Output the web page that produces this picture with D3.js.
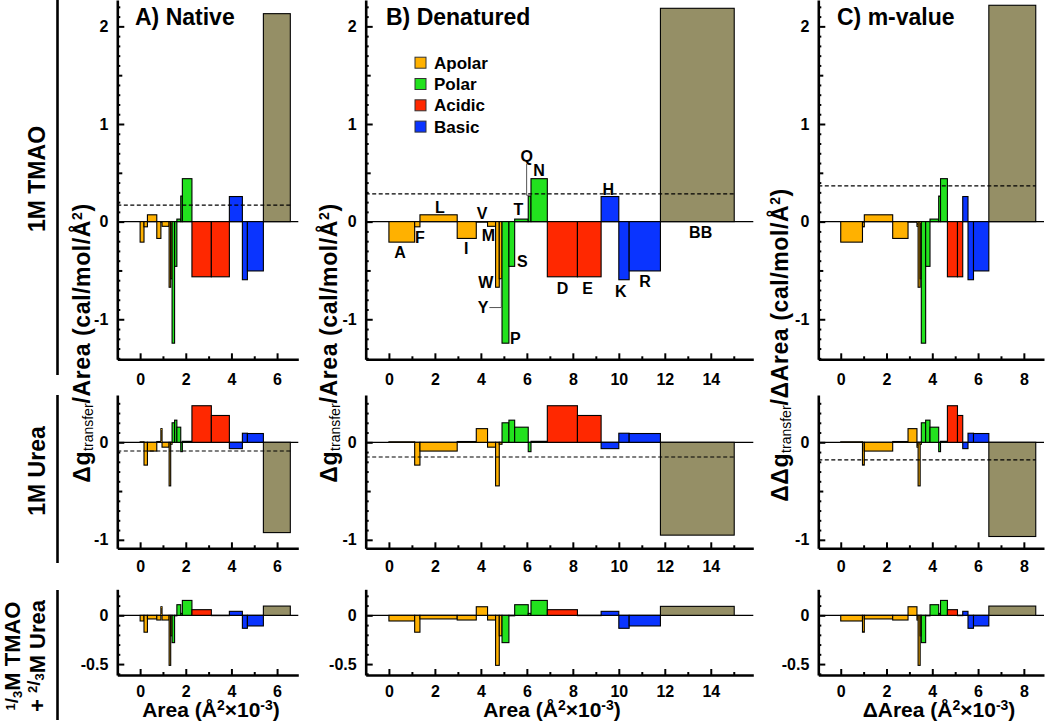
<!DOCTYPE html>
<html><head><meta charset="utf-8">
<script src="https://cdn.jsdelivr.net/npm/d3@7"></script>
<style>
body{margin:0;background:#fff}
svg{display:block}
text{font-family:"Liberation Sans",Arial,Helvetica,sans-serif;font-weight:bold;fill:#000}
</style></head>
<body><svg id="chart" width="1050" height="724"></svg>
<script>
// ---------------- DATA ----------------
const residues = ["A","F","L","I","V","M","W","Y","P","S","T","Q","N","D","E","H","K","R","BB"];
const residueGroup = ["apolar","apolar","apolar","apolar","apolar","apolar","apolar","apolar",
  "polar","polar","polar","polar","polar","acidic","acidic","basic","basic","basic","backbone"];

// surface areas (Å² x 10^-3) — bar widths
const areaNative    = [0.17,0.15,0.41,0.18,0.05,0.31,0.07,0.06,0.11,0.10,0.17,0.07,0.42,0.85,0.79,0.57,0.22,0.70,1.18];
const areaDenatured = [1.12,0.23,1.62,0.83,0.49,0.35,0.16,0.12,0.30,0.25,0.59,0.12,0.71,1.31,1.03,0.77,0.45,1.36,3.21];
const areaMvalue    = [0.95,0.08,1.24,0.67,0.39,0.05,0.09,0.05,0.19,0.19,0.38,0.08,0.30,0.44,0.23,0.23,0.24,0.67,2.05];

// Δg_transfer / Area (cal/mol/Å²), side chains (18) — shared across panels
const tmaoValues = [-0.21,-0.053,0.07,-0.172,-0.005,-0.048,-0.672,-0.585,-1.245,-0.458,0.026,0.262,0.44,-0.565,-0.565,0.257,-0.595,-0.505];
const ureaValues = [0.005,-0.234,-0.09,0.008,0.14,-0.05,-0.447,-0.02,0.20,0.227,0.155,-0.096,0.01,0.375,0.275,-0.065,0.093,0.09];
const mixValues  = [-0.058,-0.173,-0.037,-0.048,0.088,-0.048,-0.513,-0.21,-0.28,-0.005,0.109,0.02,0.153,0.058,-0.003,0.041,-0.133,-0.109];
// backbone value per panel (Native, Denatured, m-value)
const tmaoBB = [2.13, 2.185, 2.216];
const ureaBB = [-0.926, -0.952, -0.966];
const mixBB  = [0.095, 0.092, 0.095];
// dashed reference level per panel
const tmaoDashed = [0.17, 0.284, 0.367];
const ureaDashed = [-0.089, -0.151, -0.18];

// tick labels
const xTicksNative = [0,2,4,6];
const xTicksDenatured = [0,2,4,6,8,10,12,14];
const xTicksMvalue = [0,2,4,6,8];
const yTicksTmao = [-1,0,1,2];
const yTicksUrea = [-1,0];
const yTicksMix = [-0.5,0];

// residue labels on panel B (data coordinates)
const labelNames = ["A","F","L","I","V","M","W","Y","P","S","T","Q","N","D","E","H","K","R","BB"];
const labelX = [0.48,1.35,2.22,3.36,4.05,4.33,4.21,4.10,5.50,5.80,5.63,5.99,6.53,7.55,8.64,9.54,10.09,11.14,13.56];
const labelY = [-0.31,-0.157,0.15,-0.27,0.085,-0.137,-0.62,-0.88,-1.197,-0.404,0.126,0.666,0.525,-0.678,-0.678,0.331,-0.712,-0.609,-0.112];
const leaderY = [[4.37,-0.88],[4.89,-0.88],[4.89,-0.585]];
const leaderQ = [[5.99,0.59],[5.99,0.27],[6.10,0.27]];

const legendNames = ["Apolar","Polar","Acidic","Basic"];
const colors = {apolar:"#FFB100", polar:"#22E21E", acidic:"#FF2800", basic:"#0A34FF", backbone:"#958F66"};

// ---------------- LAYOUT ----------------
const svg = d3.select("#chart");
svg.append("rect").attr("width",1050).attr("height",724).attr("fill","#fff");

const cols = [
  {range:[117.3,298.3], domain:[-1,6.93], areas:areaNative, ticks:xTicksNative, title:"A) Native", titleX:135,
   yLabelX:90, yLabelY:343, yLabelDD:false, xTitleX:211, xTitleD:false},
  {range:[365.7,753.3], domain:[-1.01,15.85], areas:areaDenatured, ticks:xTicksDenatured, title:"B) Denatured", titleX:386,
   yLabelX:337, yLabelY:343, yLabelDD:false, xTitleX:552, xTitleD:false},
  {range:[818.3,1044], domain:[-0.98,8.88], areas:areaMvalue, ticks:xTicksMvalue, title:"C) m-value", titleX:837,
   yLabelX:788, yLabelY:345, yLabelDD:true, xTitleX:939, xTitleD:true}
];
const rows = [
  {range:[359.3,0], domain:[-1.41,2.27], values:tmaoValues, bb:tmaoBB, dashed:tmaoDashed, ticks:yTicksTmao, medium:[-0.5,0.5,1.5], xPad:14},
  {range:[548.3,395], domain:[-1.087,0.485], values:ureaValues, bb:ureaBB, dashed:ureaDashed, ticks:yTicksUrea, medium:[-0.5], xPad:12.5},
  {range:[675,589.3], domain:[-0.612,0.267], values:mixValues, bb:mixBB, dashed:null, ticks:yTicksMix, medium:[], xPad:10.5}
];

const fmt = d => (d === -0.5 ? "-0.5" : d3.format("d")(d)).replace("−","-");

cols.forEach((col, ci) => {
  const x = d3.scaleLinear().domain(col.domain).range(col.range);
  const cum = [0]; col.areas.forEach(a => cum.push(cum[cum.length-1] + a));
  const xMinor = d3.range(Math.ceil(col.domain[0]), Math.floor(col.domain[1]) + 1).filter(v => v >= 0 && !col.ticks.includes(v));

  rows.forEach((row, ri) => {
    const y = d3.scaleLinear().domain(row.domain).range(row.range);
    const g = svg.append("g");
    const vals = row.values.concat([row.bb[ci]]);
    const bars = residues.map((r, i) => ({r, grp: residueGroup[i], x0: cum[i], x1: cum[i+1], v: vals[i]}));

    // zero line
    g.append("line").attr("x1", col.range[0]).attr("x2", col.range[1])
      .attr("y1", y(0)).attr("y2", y(0)).attr("stroke","#000").attr("stroke-width",1.2);

    // bars
    g.selectAll("rect.bar").data(bars).join("rect").attr("class","bar")
      .attr("x", d => x(d.x0)).attr("width", d => Math.max(0.01, x(d.x1) - x(d.x0)))
      .attr("y", d => y(Math.max(0, d.v))).attr("height", d => Math.abs(y(d.v) - y(0)))
      .attr("fill", d => colors[d.grp]).attr("stroke","#000").attr("stroke-width",1.1);

    // dashed line
    if (row.dashed) {
      g.append("line").attr("x1", col.range[0]).attr("x2", x(cum[cum.length-1]))
        .attr("y1", y(row.dashed[ci])).attr("y2", y(row.dashed[ci]))
        .attr("stroke","#000").attr("stroke-width",1.2).attr("stroke-dasharray","4,2.5");
    }

    // y axis
    const yMinorVals = d3.range(Math.ceil(row.domain[0]*10), Math.floor(row.domain[1]*10)+1).map(v => v/10)
      .filter(v => !row.ticks.some(t => Math.abs(t-v)<1e-6) && !row.medium.some(t => Math.abs(t-v)<1e-6));
    const yAxisMinor = g.append("g").attr("transform",`translate(${col.range[0]},0)`)
      .call(d3.axisLeft(y).tickValues(yMinorVals).tickSize(-3).tickFormat(""));
    const yAxisMed = g.append("g").attr("transform",`translate(${col.range[0]},0)`)
      .call(d3.axisLeft(y).tickValues(row.medium).tickSize(-5).tickFormat(""));
    const yAxis = g.append("g").attr("transform",`translate(${col.range[0]},0)`)
      .call(d3.axisLeft(y).tickValues(row.ticks).tickSizeInner(-7).tickSizeOuter(0).tickPadding(9).tickFormat(fmt));
    [yAxisMinor, yAxisMed].forEach(a => a.select(".domain").remove());
    [yAxisMinor, yAxisMed, yAxis].forEach(a => a.selectAll(".tick line").attr("stroke","#000").attr("stroke-width",2));
    yAxis.select(".domain").attr("stroke","#000").attr("stroke-width",2.6);
    yAxis.selectAll("text").attr("font-size",16).attr("font-weight","bold")
      .attr("font-family",'"Liberation Sans",Arial,sans-serif').attr("fill","#000");

    // x axis
    const xAxisMinor = g.append("g").attr("transform",`translate(0,${row.range[0]})`)
      .call(d3.axisBottom(x).tickValues(xMinor).tickSize(-3).tickFormat(""));
    const xAxis = g.append("g").attr("transform",`translate(0,${row.range[0]})`)
      .call(d3.axisBottom(x).tickValues(col.ticks).tickSizeInner(-6).tickSizeOuter(0).tickPadding(row.xPad).tickFormat(d3.format("d")));
    xAxisMinor.select(".domain").remove();
    [xAxisMinor, xAxis].forEach(a => a.selectAll(".tick line").attr("stroke","#000").attr("stroke-width",2));
    xAxis.select(".domain").attr("stroke","#000").attr("stroke-width",2.6);
    xAxis.selectAll("text").attr("font-size",16).attr("font-weight","bold")
      .attr("font-family",'"Liberation Sans",Arial,sans-serif').attr("fill","#000");

    // residue labels on panel B top row
    if (ci === 1 && ri === 0) {
      const lg = g.append("g");
      lg.selectAll("text").data(labelNames).join("text")
        .attr("x", (d,i) => x(labelX[i])).attr("y", (d,i) => y(labelY[i]))
        .attr("dy","0.36em").attr("text-anchor","middle").attr("font-size",16).text(d => d);
      const line = d3.line().x(p => x(p[0])).y(p => y(p[1]));
      [leaderY, leaderQ].forEach(pts => lg.append("path").attr("d", line(pts))
        .attr("fill","none").attr("stroke","#555").attr("stroke-width",1));
      // legend
      const lgd = g.append("g");
      legendNames.forEach((n, i) => {
        const cy = 62.7 + i*21.3;
        lgd.append("rect").attr("x",415).attr("y",cy-5.5).attr("width",11).attr("height",11)
          .attr("fill", colors[n.toLowerCase()]).attr("stroke","#333").attr("stroke-width",1);
        lgd.append("text").attr("x",434).attr("y",cy+6).attr("font-size",17).text(n);
      });
    }
  });

  // panel title
  svg.append("text").attr("x", col.titleX).attr("y", 25).attr("font-size", 23).text(col.title);

  // y axis title
  const yt = svg.append("text").attr("x", col.yLabelX).attr("y", col.yLabelY)
    .attr("text-anchor","middle").attr("font-size",23).attr("letter-spacing",0.6)
    .attr("transform", `rotate(-90,${col.yLabelX},${col.yLabelY})`);
  yt.append("tspan").text(col.yLabelDD ? "ΔΔg" : "Δg");
  yt.append("tspan").attr("font-size",14).attr("font-weight","normal").attr("letter-spacing",0).attr("dy",3).text("transfer");
  yt.append("tspan").attr("dy",-3).text(col.yLabelDD ? "/ΔArea (cal/mol/Å" : "/Area (cal/mol/Å");
  yt.append("tspan").attr("font-size",14).attr("dy",-8).text("2");
  yt.append("tspan").attr("dy",8).text(")");

  // x axis title
  const xt = svg.append("text").attr("x", col.xTitleX).attr("y", 717).attr("text-anchor","middle").attr("font-size",21);
  xt.append("tspan").text(col.xTitleD ? "ΔArea (Å" : "Area (Å");
  xt.append("tspan").attr("font-size",14).attr("dy",-7).text("2");
  xt.append("tspan").attr("dy",7).text("×10");
  xt.append("tspan").attr("font-size",14).attr("dy",-7).text("-3");
  xt.append("tspan").attr("dy",7).text(")");
});

// row labels and separators
const rowLabels = [
  {lines:[[["1M TMAO",23,0]]], cy:179, xs:[45], sep:[0,375]},
  {lines:[[["1M Urea",23,0]]], cy:471, xs:[45], sep:[395,563]},
  {lines:[
     [["1",13,-5],["/",19,3],["3",13,4],["M TMAO",22,-2]],
     [["+ ",22,0],["2",13,-8],["/",19,3],["3",13,4],["M Urea",22,1]]
   ], cy:656, xs:[20,45], sep:[590,720]}
];
rowLabels.forEach(rl => {
  rl.lines.forEach((parts, li) => {
    const bx = rl.xs[li];
    const t = svg.append("text").attr("x", bx).attr("y", rl.cy).attr("text-anchor","middle")
      .attr("transform", `rotate(-90,${bx},${rl.cy})`);
    parts.forEach(p => t.append("tspan").attr("font-size", p[1]).attr("dy", p[2]).text(p[0]));
  });
  svg.append("line").attr("x1",57.5).attr("x2",57.5).attr("y1",rl.sep[0]).attr("y2",rl.sep[1])
    .attr("stroke","#000").attr("stroke-width",2.6);
});
</script>
</body></html>
